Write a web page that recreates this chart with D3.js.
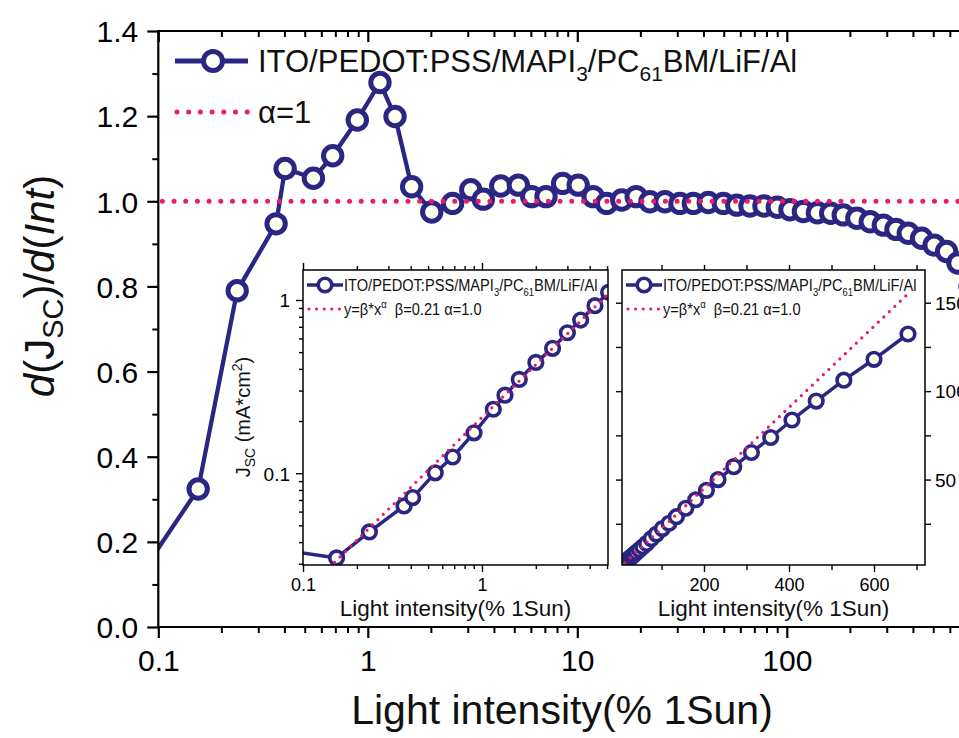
<!DOCTYPE html>
<html>
<head>
<meta charset="utf-8">
<script src="https://cdn.jsdelivr.net/npm/d3@7"></script>
<style>
  body { margin: 0; background: #fff; }
  svg { display: block; font-family: "Liberation Sans", Arial, sans-serif; }
</style>
</head>
<body>
<svg width="959" height="738"></svg>
<script>
// main panel: d(Jsc)/d(Int) against light intensity
const derivX = [0.09, 0.155, 0.238, 0.365, 0.403, 0.550, 0.680, 0.891, 1.143, 1.349,
    1.619, 2.02, 2.54, 3.10, 3.56, 4.31, 5.23, 6.06, 7.09, 8.51,
    10.1, 11.9, 13.8, 16.3, 19.1, 22.2, 26.2, 30.9, 35.8, 42.2,
    49.8, 57.7, 66.7, 77.8, 90.1, 103.5, 120, 140, 162, 186,
    216, 250, 289, 332, 380, 440, 505, 579, 656, 750];
const derivY = [0.152, 0.324, 0.790, 0.947, 1.077, 1.054, 1.107, 1.191, 1.279, 1.199,
    1.034, 0.975, 0.995, 1.027, 1.005, 1.036, 1.038, 1.011, 1.011, 1.042,
    1.038, 1.011, 0.995, 1.003, 1.011, 0.999, 0.999, 0.995, 0.995, 0.997,
    0.995, 0.991, 0.989, 0.989, 0.986, 0.980, 0.976, 0.973, 0.972, 0.968,
    0.960, 0.952, 0.944, 0.934, 0.925, 0.913, 0.897, 0.882, 0.855, 0.80];
const alphaRef = 1;

// insets: Jsc (mA*cm^2) against light intensity
const jscX = [0.09, 0.154, 0.235, 0.367, 0.410, 0.548, 0.686, 0.903, 1.157, 1.344,
    1.616, 2.00, 2.48, 3.0, 3.56, 4.28, 5.1, 6.0, 7.0, 8.4,
    9.9, 11.7, 13.6, 16.0, 18.8, 21.8, 25.6, 30.2, 35, 41,
    48, 56, 65, 76, 88, 102, 117.6, 135, 157, 180.5,
    205.6, 233, 270, 311.5, 357, 407, 464, 529, 600, 680];
const jscY = [0.0352, 0.0324, 0.0458, 0.0647, 0.0723, 0.1005, 0.124, 0.171, 0.234, 0.282,
    0.348, 0.436, 0.526, 0.647, 0.766, 0.927, 1.108, 1.30, 1.52, 1.83,
    2.16, 2.55, 2.97, 3.50, 4.10, 4.75, 5.57, 6.55, 7.58, 8.85,
    10.3, 12.0, 13.9, 16.6, 19.2, 22.3, 25.3, 29.0, 33.8, 38.6,
    43.9, 50.0, 57.3, 65.3, 73.8, 83.7, 94.4, 106.2, 118.0, 132.3];

// fit line y = beta*x^alpha as drawn in the insets
const fitX = [0.15, 1, 5.1, 100, 200, 400, 680];
const fitY = [0.0306, 0.21, 1.09, 22.3, 45, 90.8, 155];

// ticks
const mainXTicks = [0.1, 1, 10, 100];
const mainYTicks = [0, 0.2, 0.4, 0.6, 0.8, 1.0, 1.2, 1.4];
const mainYMinor = [0.1, 0.3, 0.5, 0.7, 0.9, 1.1, 1.3];
const logXTicks = [0.1, 1];
const logYTicks = [0.1, 1];
const linXTicks = [200, 400, 600];
const linXMinor = [100, 300, 500, 700];
const linYTicks = [50, 100, 150];
const linYMinor = [25, 75, 125];

const navy = '#2b2583';
const pink = '#e8196e';
const ringFill = '#fffff4';

const svg = d3.select('svg');
const defs = svg.append('defs');

const minorLog = (lo, hi) => {
    const out = [];
    for (let d = lo; d < hi; d *= 10) {
        for (let k = 2; k <= 9; k++) {
            const v = +(d * k).toPrecision(3);
            if (v <= hi) out.push(v);
        }
    }
    return out;
};

const styleAxis = (g, width) => {
    g.select('.domain').remove();
    g.selectAll('.tick line').attr('stroke', '#000').attr('stroke-width', width);
    g.selectAll('.tick text').attr('fill', '#000');
    return g;
};

const seriesLabel = (g, size, subSize, subDy) => {
    const t = g.append('text').attr('font-size', size).attr('fill', '#111');
    t.append('tspan').text('ITO/PEDOT:PSS/MAPI');
    t.append('tspan').attr('font-size', subSize).attr('dy', subDy).text('3');
    t.append('tspan').attr('dy', -subDy).text('/PC');
    t.append('tspan').attr('font-size', subSize).attr('dy', subDy).text('61');
    t.append('tspan').attr('dy', -subDy).text('BM/LiF/Al');
    return t;
};

const pts = (xs, ys) => xs.map((x, i) => [x, ys[i]]);

// ---------------- main panel ----------------
const xMain = d3.scaleLog().domain([0.1, 1000]).range([158.3, 996.3]);
const yMain = d3.scaleLinear().domain([0, 1.4]).range([627, 31]);

defs.append('clipPath').attr('id', 'clipMain').append('rect')
    .attr('x', xMain(0.1)).attr('y', 0)
    .attr('width', 900).attr('height', yMain(0));

const mainLine = d3.line().x(d => xMain(d[0])).y(d => yMain(d[1]));
const mainPts = pts(derivX, derivY);

const plot = svg.append('g').attr('clip-path', 'url(#clipMain)');
plot.append('path')
    .datum(mainPts)
    .attr('d', mainLine)
    .attr('fill', 'none')
    .attr('stroke', navy)
    .attr('stroke-width', 4.3)
    .attr('stroke-linejoin', 'round');
plot.append('g')
    .selectAll('circle')
    .data(mainPts.filter(d => d[0] >= 0.1))
    .join('circle')
    .attr('cx', d => xMain(d[0]))
    .attr('cy', d => yMain(d[1]))
    .attr('r', 9.2)
    .attr('fill', ringFill)
    .attr('stroke', navy)
    .attr('stroke-width', 5);
plot.append('line')
    .attr('x1', xMain(0.1) + 4).attr('x2', 965)
    .attr('y1', yMain(alphaRef)).attr('y2', yMain(alphaRef))
    .attr('stroke', pink)
    .attr('stroke-width', 5)
    .attr('stroke-linecap', 'round')
    .attr('stroke-dasharray', '0 11.7');

// main axes
styleAxis(svg.append('g')
    .attr('transform', `translate(0,${yMain(0)})`)
    .call(d3.axisBottom(xMain).tickValues(minorLog(0.1, 900)).tickSize(6).tickFormat('')), 2);
const xAx = styleAxis(svg.append('g')
    .attr('transform', `translate(0,${yMain(0)})`)
    .call(d3.axisBottom(xMain).tickValues(mainXTicks).tickSize(11)
        .tickFormat(d => d < 1 ? '0.1' : d3.format('d')(d))), 2.2);
xAx.selectAll('.tick text').attr('font-size', 30).attr('y', 44).attr('dy', null);

styleAxis(svg.append('g')
    .attr('transform', `translate(0,${yMain(1.4)})`)
    .call(d3.axisTop(xMain).tickValues(minorLog(0.1, 900)).tickSize(-6).tickFormat('')), 2);
styleAxis(svg.append('g')
    .attr('transform', `translate(0,${yMain(1.4)})`)
    .call(d3.axisTop(xMain).tickValues(mainXTicks).tickSize(-11).tickFormat('')), 2.2);

styleAxis(svg.append('g')
    .attr('transform', `translate(${xMain(0.1)},0)`)
    .call(d3.axisLeft(yMain).tickValues(mainYMinor).tickSize(6).tickFormat('')), 2);
const yAx = styleAxis(svg.append('g')
    .attr('transform', `translate(${xMain(0.1)},0)`)
    .call(d3.axisLeft(yMain).tickValues(mainYTicks).tickSize(11).tickPadding(9)
        .tickFormat(d3.format('.1f'))), 2.2);
yAx.selectAll('.tick text').attr('font-size', 30).attr('dy', '0.36em');

svg.append('path')
    .attr('d', `M965,${yMain(1.4)}H${xMain(0.1)}V${yMain(0)}H965`)
    .attr('fill', 'none')
    .attr('stroke', '#000')
    .attr('stroke-width', 2.2);

svg.append('text')
    .attr('x', 562).attr('y', 724)
    .attr('text-anchor', 'middle')
    .attr('font-size', 41)
    .attr('fill', '#111')
    .text('Light intensity(% 1Sun)');

const yTitle = svg.append('text')
    .attr('transform', 'translate(54,286) rotate(-90)')
    .attr('text-anchor', 'middle')
    .attr('font-size', 42)
    .attr('fill', '#111');
yTitle.append('tspan').attr('font-style', 'italic').text('d');
yTitle.append('tspan').text('(J');
yTitle.append('tspan').attr('font-size', 29).attr('dy', 9).text('SC');
yTitle.append('tspan').attr('dy', -9).text(')/');
yTitle.append('tspan').attr('font-style', 'italic').text('d');
yTitle.append('tspan').text('(');
yTitle.append('tspan').attr('font-style', 'italic').text('Int');
yTitle.append('tspan').text(')');

// main legend
const leg = svg.append('g');
leg.append('line').attr('x1', 175).attr('x2', 248).attr('y1', 61).attr('y2', 61)
    .attr('stroke', navy).attr('stroke-width', 5);
leg.append('circle').attr('cx', 213).attr('cy', 61).attr('r', 9.5)
    .attr('fill', ringFill).attr('stroke', navy).attr('stroke-width', 5);
seriesLabel(leg.append('g').attr('transform', 'translate(258,72)'), 31, 21, 9);
leg.append('line').attr('x1', 177).attr('x2', 248).attr('y1', 112).attr('y2', 112)
    .attr('stroke', pink).attr('stroke-width', 5)
    .attr('stroke-linecap', 'round').attr('stroke-dasharray', '0 11.7');
leg.append('text').attr('x', 258).attr('y', 123).attr('font-size', 31)
    .attr('fill', '#111').text('\u03b1=1');

// ---------------- insets ----------------
const jscPts = pts(jscX, jscY);
const fitPts = pts(fitX, fitY);

const drawInset = (id, x, y) => {
    const [x0, x1] = x.range();
    const [y0, y1] = y.range();
    const g = svg.append('g');
    g.append('rect')
        .attr('x', x0).attr('y', y1)
        .attr('width', x1 - x0).attr('height', y0 - y1)
        .attr('fill', '#fff');
    defs.append('clipPath').attr('id', id).append('rect')
        .attr('x', x0).attr('y', y1)
        .attr('width', x1 - x0).attr('height', y0 - y1);

    const inner = g.append('g').attr('clip-path', `url(#${id})`);
    const ln = d3.line().x(d => x(d[0])).y(d => y(d[1]));
    inner.append('path')
        .datum(jscPts)
        .attr('d', ln)
        .attr('fill', 'none')
        .attr('stroke', navy)
        .attr('stroke-width', 3.5)
        .attr('stroke-linejoin', 'round');
    inner.append('g')
        .selectAll('circle')
        .data(jscPts)
        .join('circle')
        .attr('cx', d => x(d[0]))
        .attr('cy', d => y(d[1]))
        .attr('r', 6.8)
        .attr('fill', ringFill)
        .attr('stroke', navy)
        .attr('stroke-width', 3.6);
    inner.append('path')
        .datum(fitPts)
        .attr('d', ln)
        .attr('fill', 'none')
        .attr('stroke', pink)
        .attr('stroke-width', 3.2)
        .attr('stroke-linecap', 'round')
        .attr('stroke-dasharray', '0 7.6');

    g.append('rect')
        .attr('x', x0).attr('y', y1)
        .attr('width', x1 - x0).attr('height', y0 - y1)
        .attr('fill', 'none')
        .attr('stroke', '#000')
        .attr('stroke-width', 1.5);

    // legend
    const lg = g.append('g');
    lg.append('line').attr('x1', x0 + 4).attr('x2', x0 + 40).attr('y1', y1 + 15).attr('y2', y1 + 15)
        .attr('stroke', navy).attr('stroke-width', 3.5);
    lg.append('circle').attr('cx', x0 + 22).attr('cy', y1 + 15).attr('r', 6.8)
        .attr('fill', ringFill).attr('stroke', navy).attr('stroke-width', 3.6);
    seriesLabel(lg.append('g').attr('transform', `translate(${x0 + 41},${y1 + 21}) scale(0.86,1)`), 17, 11, 5);
    lg.append('line').attr('x1', x0 + 6).attr('x2', x0 + 40).attr('y1', y1 + 39).attr('y2', y1 + 39)
        .attr('stroke', pink).attr('stroke-width', 3.2)
        .attr('stroke-linecap', 'round').attr('stroke-dasharray', '0 7.6');
    const ft = lg.append('g').attr('transform', `translate(${x0 + 41},${y1 + 45}) scale(0.86,1)`)
        .append('text').attr('font-size', 17).attr('fill', '#111');
    ft.append('tspan').text('y=\u03b2*x');
    ft.append('tspan').attr('font-size', 11).attr('dy', -7).text('\u03b1');
    ft.append('tspan').attr('dy', 7).attr('xml:space', 'preserve').text('  \u03b2=0.21 \u03b1=1.0');

    // x title
    g.append('text')
        .attr('x', (x0 + x1) / 2).attr('y', 616)
        .attr('text-anchor', 'middle')
        .attr('font-size', 22.5)
        .attr('fill', '#111')
        .text('Light intensity(% 1Sun)');
    return g;
};

// inset 1: log-log
const xLog = d3.scaleLog().domain([0.1, 5.06]).range([303, 608]);
const yLog = d3.scaleLog().domain([0.0295, 1.49]).range([565, 270]);
const in1 = drawInset('clipIn1', xLog, yLog);

styleAxis(in1.append('g').attr('transform', 'translate(0,565)')
    .call(d3.axisBottom(xLog).tickValues(minorLog(0.1, 5)).tickSize(4).tickFormat('')), 1.4);
const in1x = styleAxis(in1.append('g').attr('transform', 'translate(0,565)')
    .call(d3.axisBottom(xLog).tickValues(logXTicks).tickSize(7).tickFormat(d3.format('~g'))), 1.4);
in1x.selectAll('.tick text').attr('font-size', 18).attr('y', 26).attr('dy', null);
styleAxis(in1.append('g').attr('transform', 'translate(0,270)')
    .call(d3.axisTop(xLog).tickValues(minorLog(0.1, 5)).tickSize(4).tickFormat('')), 1.4);
styleAxis(in1.append('g').attr('transform', 'translate(0,270)')
    .call(d3.axisTop(xLog).tickValues(logXTicks).tickSize(7).tickFormat('')), 1.4);

styleAxis(in1.append('g').attr('transform', 'translate(303,0)')
    .call(d3.axisLeft(yLog).tickValues(minorLog(0.01, 1.4).filter(v => v >= 0.03)).tickSize(4).tickFormat('')), 1.4);
const in1y = styleAxis(in1.append('g').attr('transform', 'translate(303,0)')
    .call(d3.axisLeft(yLog).tickValues(logYTicks).tickSize(7).tickPadding(6).tickFormat(d3.format('~g'))), 1.4);
in1y.selectAll('.tick text').attr('font-size', 19).attr('dy', '0.36em');

const jt = in1.append('text')
    .attr('transform', 'translate(250,417) rotate(-90)')
    .attr('text-anchor', 'middle')
    .attr('font-size', 20)
    .attr('fill', '#111');
jt.append('tspan').text('J');
jt.append('tspan').attr('font-size', 14).attr('dy', 5).text('SC');
jt.append('tspan').attr('dy', -5).attr('xml:space', 'preserve').text(' (mA*cm');
jt.append('tspan').attr('font-size', 14).attr('dy', -8).text('2');
jt.append('tspan').attr('dy', 8).text(')');

// inset 2: linear
const xLin = d3.scaleLinear().domain([7, 720]).range([622, 925]);
const yLin = d3.scaleLinear().domain([1.7, 168.5]).range([565, 270]);
const in2 = drawInset('clipIn2', xLin, yLin);

styleAxis(in2.append('g').attr('transform', 'translate(0,565)')
    .call(d3.axisBottom(xLin).tickValues(linXMinor).tickSize(5).tickFormat('')), 1.4);
const in2x = styleAxis(in2.append('g').attr('transform', 'translate(0,565)')
    .call(d3.axisBottom(xLin).tickValues(linXTicks).tickSize(7).tickFormat(d3.format('d'))), 1.4);
in2x.selectAll('.tick text').attr('font-size', 18).attr('y', 26).attr('dy', null);
styleAxis(in2.append('g').attr('transform', 'translate(0,270)')
    .call(d3.axisTop(xLin).tickValues(linXMinor.concat(linXTicks)).tickSize(5).tickFormat('')), 1.4);

styleAxis(in2.append('g').attr('transform', 'translate(622,0)')
    .call(d3.axisLeft(yLin).tickValues(linYMinor.concat(linYTicks)).tickSize(6).tickFormat('')), 1.4);
styleAxis(in2.append('g').attr('transform', 'translate(925,0)')
    .call(d3.axisRight(yLin).tickValues(linYMinor).tickSize(6).tickFormat('')), 1.4);
const in2y = styleAxis(in2.append('g').attr('transform', 'translate(925,0)')
    .call(d3.axisRight(yLin).tickValues(linYTicks).tickSize(6).tickPadding(4).tickFormat(d3.format('d'))), 1.4);
in2y.selectAll('.tick text').attr('font-size', 19).attr('dy', '0.36em');
</script>
</body>
</html>
